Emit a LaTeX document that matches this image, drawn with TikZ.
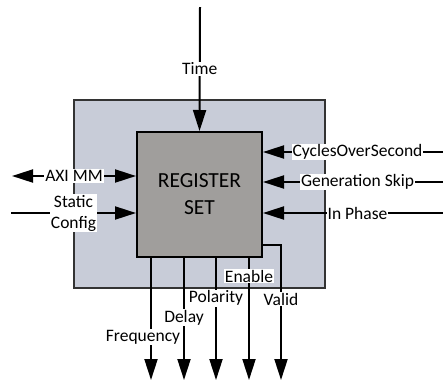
\documentclass[tikz,border=0pt]{standalone}
\usepackage{fontspec}
\setmainfont{Carlito}
\usepackage{tikz}
\usetikzlibrary{arrows.meta, positioning}

\definecolor{shellfill}{RGB}{200,204,216}
\definecolor{regfill}{RGB}{160,158,156}

\begin{document}
\begin{tikzpicture}[
  x=1pt, y=-1pt,
  shell/.style={rectangle, draw=black!80, line width=1.5pt, fill=shellfill,
                minimum width=251pt, minimum height=188pt},
  regs/.style={rectangle, draw=black, line width=2pt, fill=regfill,
               minimum width=125pt, minimum height=125pt, align=center,
               font=\fontsize{21.5}{27}\selectfont},
  sig/.style={line width=2pt, -{Triangle[length=21pt, width=13pt]}},
  lbl/.style={fill=white, inner sep=1pt, align=center,
              font=\fontsize{17.5}{21}\selectfont},
]
  \useasboundingbox (0,0) rectangle (443,381);

  \node[shell] (shell) at (199.5,194) {};
  \node[regs]  (regs)  at (199.5,194.5) {REGISTER\\SET};

  % free ends
  \coordinate (timein)  at (200,7);
  \coordinate (cosin)   at (443,152);
  \coordinate (skipin)  at (443,182);
  \coordinate (phasein) at (443,213);
  \coordinate (axiend)  at (12,176);
  \coordinate (cfgin)   at (11,213);
  \coordinate (freqout) at (151,380);
  \coordinate (dlyout)  at (184,380);
  \coordinate (polout)  at (216,380);
  \coordinate (enout)   at (249,380);
  \coordinate (valout)  at (281,380);

  % inputs
  \draw[sig] (timein) -- (regs.north) node[lbl, midway] {Time};
  \draw[sig] (cosin) -- (regs.east |- cosin)
    node[lbl, pos=0.475] {CyclesOverSecond};
  \draw[sig] (skipin) -- (regs.east |- skipin)
    node[lbl, pos=0.475] {Generation Skip};
  \draw[sig] (phasein) -- (regs.east |- phasein)
    node[lbl, pos=0.475] {In Phase};
  \draw[sig, {Triangle[length=21pt, width=13pt]}-{Triangle[length=21pt, width=13pt]}]
    (axiend) -- (regs.west |- axiend) node[lbl, midway] {AXI MM};
  \draw[sig] (cfgin) -- (regs.west |- cfgin) node[lbl, midway] {Static\\Config};

  % outputs
  \draw[sig] (regs.south -| freqout) -- (freqout)
    node[lbl, pos=0.65, xshift=-8pt] {Frequency};
  \draw[sig] (regs.south -| dlyout) -- (dlyout) node[lbl, pos=0.49] {Delay};
  \draw[sig] (regs.south -| polout) -- (polout) node[lbl, pos=0.33] {Polarity};
  \draw[sig] (regs.south -| enout) -- (enout) node[lbl, pos=0.15] {Enable};
  \draw[sig] ([yshift=-50.5pt]regs.east) -| (valout) node[lbl, pos=0.7] {Valid};
\end{tikzpicture}
\end{document}
